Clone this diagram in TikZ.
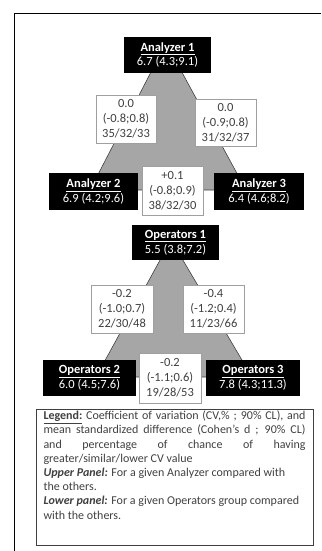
\documentclass[tikz,border=0pt]{standalone}
\usepackage{fontspec}
\setmainfont{Carlito}
\definecolor{txtgray}{HTML}{404040}
\definecolor{trigray}{HTML}{A6A6A6}
\tikzset{every node/.style={font=\fontsize{12.5}{14.8}\selectfont},
  group box/.style={fill=black,text=white,align=center,inner sep=0pt},
  diff box/.style={draw=gray!75,fill=white,text=txtgray,align=center,inner sep=0pt,line width=0.8pt},
  panel/.style={fill=trigray,draw=txtgray,line width=0.6pt},
  legendbox/.style={draw=txtgray,line width=0.9pt,text=txtgray,inner xsep=7.5pt,inner ysep=2pt,
    font=\fontsize{12}{14.2}\selectfont}}

\begin{document}
\begin{tikzpicture}[x=1pt,y=-1pt]
\useasboundingbox (0,0) rectangle (321,551);
\draw[line width=1.8pt] (14.5,551) |- (321,13.5);
% upper panel
\draw[panel] (166,43) -- (90,190) -- (246,190) -- cycle;
\node[group box,minimum width=87,minimum height=36] (an1) at (167.5,55) {\textbf{\underline{Analyzer 1}}\\6.7 (4.3;9.1)};
\node[group box,minimum width=89,minimum height=37] (an2) at (93.5,191.5) {\textbf{\underline{Analyzer 2}}\\6.9 (4.2;9.6)};
\node[group box,minimum width=90,minimum height=37] (an3) at (259,191.5) {\textbf{\underline{Analyzer 3}}\\6.4 (4.6;8.2)};
\node[diff box,minimum width=60,minimum height=48] (an12) at (126,119) {0.0\\(-0.8;0.8)\\35/32/33};
\node[diff box,minimum width=61,minimum height=47] (an13) at (225.5,122.5) {0.0\\(-0.9;0.8)\\31/32/37};
\node[diff box,minimum width=61,minimum height=49] (an23) at (172.5,190.5) {+0.1\\(-0.8;0.9)\\38/32/30};
% lower panel
\draw[panel] (171,240) -- (96,377) -- (252,377) -- cycle;
\node[group box,minimum width=87,minimum height=35] (op1) at (175.5,242.5) {\textbf{\underline{Operators 1}}\\5.5 (3.8;7.2)};
\node[group box,minimum width=93,minimum height=36] (op2) at (89.5,378) {\textbf{\underline{Operators 2}}\\6.0 (4.5;7.6)};
\node[group box,minimum width=94,minimum height=36] (op3) at (253,378) {\textbf{\underline{Operators 3}}\\7.8 (4.3;11.3)};
\node[diff box,minimum width=62,minimum height=48] (op12) at (122,309) {-0.2\\(-1.0;0.7)\\22/30/48};
\node[diff box,minimum width=61,minimum height=48] (op13) at (213.5,309) {-0.4\\(-1.2;0.4)\\11/23/66};
\node[diff box,minimum width=62,minimum height=50] (op23) at (170,378) {-0.2\\(-1.1;0.6)\\19/28/53};
% legend
\node[legendbox] (legend) at (174.5,477) {\parbox[t][132pt][t]{262pt}{\hyphenpenalty=10000 \tolerance=9999
\textbf{\underline{Legend:}} Coefficient of variation (CV,\% ; 90\% CL), and\linebreak
mean standardized difference (Cohen’s d ; 90\% CL)\linebreak
and percentage of chance of having\linebreak
greater/similar/lower CV value\par
\textbf{\textit{Upper Panel:}} For a given Analyzer compared with\newline the others.\par
\textbf{\textit{Lower panel:}} For a given Operators group compared\newline with the others.}};
\end{tikzpicture}
\end{document}
